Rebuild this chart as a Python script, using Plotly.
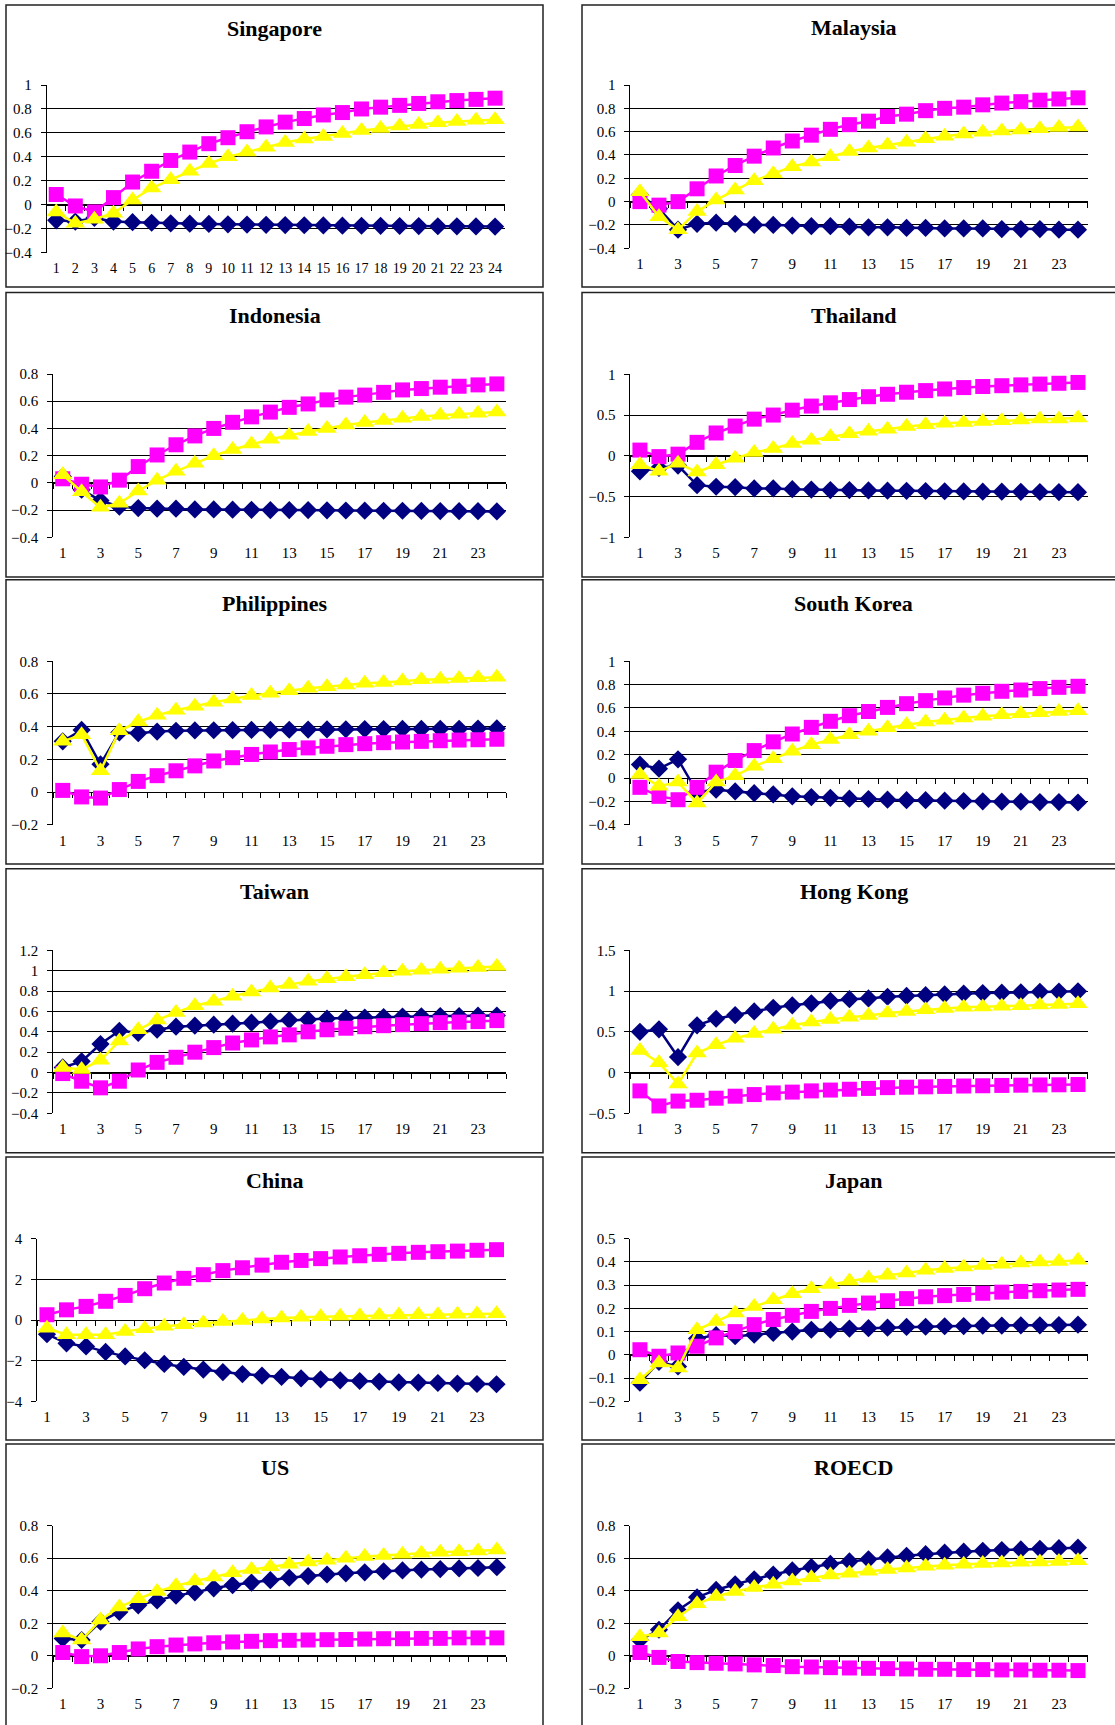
import plotly.graph_objects as go

# ---------------- data ----------------
periods = list(range(1, 25))

singapore_navy = [-0.13, -0.14, -0.11, -0.14, -0.145, -0.15, -0.155, -0.158, -0.16, -0.163, -0.165, -0.167,
                  -0.169, -0.171, -0.172, -0.174, -0.175, -0.176, -0.177, -0.178, -0.179, -0.18, -0.181, -0.182]
singapore_magenta = [0.086, -0.01, -0.06, 0.06, 0.19, 0.28, 0.37, 0.44, 0.51, 0.56, 0.61, 0.65,
                     0.69, 0.72, 0.75, 0.77, 0.80, 0.815, 0.83, 0.846, 0.86, 0.87, 0.88, 0.89]
singapore_yellow = [-0.06, -0.155, -0.12, -0.07, 0.04, 0.14, 0.21, 0.28, 0.345, 0.40, 0.44, 0.48,
                    0.52, 0.55, 0.57, 0.595, 0.62, 0.637, 0.657, 0.67, 0.685, 0.695, 0.705, 0.71]

malaysia_navy = [0.06, -0.06, -0.24, -0.19, -0.18, -0.19, -0.2, -0.2, -0.205, -0.21, -0.21, -0.215,
                 -0.22, -0.22, -0.225, -0.225, -0.23, -0.23, -0.23, -0.235, -0.235, -0.235, -0.24, -0.24]
malaysia_magenta = [0.0, -0.03, 0.0, 0.11, 0.22, 0.31, 0.39, 0.46, 0.52, 0.57, 0.62, 0.66,
                    0.69, 0.73, 0.75, 0.78, 0.80, 0.81, 0.83, 0.845, 0.857, 0.87, 0.88, 0.89]
malaysia_yellow = [0.085, -0.13, -0.24, -0.085, 0.015, 0.10, 0.18, 0.24, 0.30, 0.34, 0.385, 0.43,
                   0.46, 0.485, 0.51, 0.54, 0.56, 0.58, 0.595, 0.605, 0.615, 0.625, 0.635, 0.64]

indonesia_navy = [0.047, -0.05, -0.13, -0.175, -0.185, -0.19, -0.19, -0.195, -0.195, -0.197, -0.198, -0.2,
                  -0.2, -0.2, -0.202, -0.203, -0.204, -0.205, -0.205, -0.206, -0.207, -0.208, -0.208, -0.21]
indonesia_magenta = [0.03, -0.01, -0.03, 0.02, 0.12, 0.205, 0.28, 0.345, 0.40, 0.445, 0.485, 0.52,
                     0.555, 0.58, 0.61, 0.63, 0.645, 0.665, 0.683, 0.693, 0.703, 0.71, 0.72, 0.727]
indonesia_yellow = [0.06, -0.065, -0.18, -0.15, -0.06, 0.02, 0.085, 0.145, 0.20, 0.245, 0.285, 0.32,
                    0.35, 0.377, 0.40, 0.426, 0.443, 0.458, 0.475, 0.487, 0.497, 0.505, 0.512, 0.52]

thailand_navy = [-0.19, -0.15, -0.12, -0.36, -0.38, -0.385, -0.4, -0.4, -0.41, -0.415, -0.42, -0.42,
                 -0.425, -0.428, -0.43, -0.432, -0.435, -0.437, -0.44, -0.44, -0.442, -0.444, -0.445, -0.446]
thailand_magenta = [0.07, -0.01, 0.02, 0.165, 0.28, 0.365, 0.45, 0.5, 0.56, 0.61, 0.65, 0.69,
                    0.725, 0.755, 0.78, 0.8, 0.82, 0.837, 0.85, 0.86, 0.87, 0.88, 0.89, 0.9]
thailand_yellow = [-0.11, -0.19, -0.09, -0.2, -0.11, -0.03, 0.04, 0.09, 0.15, 0.19, 0.235, 0.27,
                   0.3, 0.325, 0.36, 0.38, 0.4, 0.41, 0.42, 0.43, 0.44, 0.45, 0.452, 0.465]

philippines_navy = [0.31, 0.38, 0.17, 0.365, 0.36, 0.37, 0.375, 0.377, 0.378, 0.379, 0.38, 0.38,
                    0.381, 0.382, 0.383, 0.384, 0.385, 0.385, 0.386, 0.386, 0.387, 0.387, 0.388, 0.389]
philippines_magenta = [0.01, -0.03, -0.037, 0.015, 0.065, 0.1, 0.13, 0.16, 0.19, 0.21, 0.23, 0.245,
                       0.26, 0.27, 0.28, 0.29, 0.296, 0.302, 0.306, 0.31, 0.314, 0.318, 0.32, 0.323]
philippines_yellow = [0.31, 0.35, 0.13, 0.375, 0.43, 0.47, 0.5, 0.525, 0.55, 0.57, 0.59, 0.605,
                      0.62, 0.635, 0.645, 0.655, 0.665, 0.67, 0.68, 0.687, 0.69, 0.695, 0.7, 0.703]

korea_navy = [0.115, 0.08, 0.16, -0.12, -0.1, -0.115, -0.13, -0.14, -0.157, -0.163, -0.17, -0.177,
              -0.18, -0.186, -0.19, -0.19, -0.194, -0.197, -0.2, -0.203, -0.203, -0.206, -0.206, -0.21]
korea_magenta = [-0.08, -0.157, -0.186, -0.08, 0.05, 0.15, 0.235, 0.31, 0.377, 0.434, 0.486, 0.534,
                 0.57, 0.605, 0.637, 0.663, 0.686, 0.71, 0.726, 0.743, 0.754, 0.766, 0.777, 0.786]
korea_yellow = [0.03, -0.07, -0.035, -0.215, -0.035, 0.02, 0.1, 0.166, 0.23, 0.286, 0.33, 0.37,
                0.4, 0.43, 0.457, 0.48, 0.494, 0.514, 0.53, 0.543, 0.551, 0.56, 0.57, 0.577]

taiwan_navy = [0.05, 0.11, 0.28, 0.41, 0.39, 0.42, 0.45, 0.46, 0.47, 0.48, 0.49, 0.5,
               0.515, 0.52, 0.53, 0.535, 0.54, 0.545, 0.55, 0.552, 0.555, 0.555, 0.558, 0.56]
taiwan_magenta = [-0.01, -0.085, -0.15, -0.085, 0.025, 0.1, 0.15, 0.2, 0.245, 0.29, 0.32, 0.35,
                  0.37, 0.4, 0.42, 0.435, 0.45, 0.46, 0.47, 0.48, 0.49, 0.495, 0.5, 0.51]
taiwan_yellow = [0.05, 0.03, 0.12, 0.31, 0.42, 0.515, 0.59, 0.655, 0.7, 0.75, 0.79, 0.83,
                 0.865, 0.895, 0.92, 0.94, 0.96, 0.98, 0.995, 1.005, 1.015, 1.025, 1.03, 1.04]

hongkong_navy = [0.5, 0.53, 0.19, 0.58, 0.66, 0.705, 0.75, 0.795, 0.825, 0.85, 0.88, 0.9,
                 0.91, 0.93, 0.94, 0.95, 0.96, 0.97, 0.975, 0.98, 0.985, 0.99, 0.993, 0.997]
hongkong_magenta = [-0.225, -0.41, -0.35, -0.34, -0.315, -0.29, -0.27, -0.25, -0.24, -0.225, -0.215, -0.205,
                    -0.195, -0.185, -0.18, -0.175, -0.17, -0.165, -0.162, -0.158, -0.155, -0.152, -0.15, -0.147]
hongkong_yellow = [0.27, 0.12, -0.14, 0.24, 0.34, 0.42, 0.48, 0.53, 0.58, 0.62, 0.65, 0.68,
                   0.7, 0.73, 0.75, 0.77, 0.785, 0.8, 0.805, 0.815, 0.82, 0.83, 0.835, 0.845]

china_navy = [-0.7, -1.15, -1.3, -1.57, -1.79, -1.98, -2.16, -2.31, -2.44, -2.56, -2.66, -2.74,
              -2.8, -2.87, -2.92, -2.97, -3.0, -3.03, -3.07, -3.08, -3.1, -3.13, -3.15, -3.16]
china_magenta = [0.26, 0.5, 0.67, 0.92, 1.21, 1.54, 1.82, 2.05, 2.23, 2.43, 2.57, 2.7,
                 2.84, 2.93, 3.02, 3.1, 3.16, 3.23, 3.28, 3.33, 3.36, 3.39, 3.43, 3.46]
china_yellow = [-0.4, -0.72, -0.72, -0.72, -0.56, -0.43, -0.31, -0.23, -0.15, -0.07, -0.02, 0.05,
                0.1, 0.13, 0.16, 0.18, 0.21, 0.23, 0.25, 0.26, 0.26, 0.28, 0.3, 0.31]

japan_navy = [-0.12, -0.03, -0.05, 0.07, 0.085, 0.08, 0.087, 0.094, 0.1, 0.108, 0.108, 0.113,
              0.115, 0.117, 0.12, 0.121, 0.123, 0.124, 0.126, 0.126, 0.127, 0.127, 0.128, 0.13]
japan_magenta = [0.022, -0.006, 0.008, 0.037, 0.073, 0.1, 0.13, 0.152, 0.17, 0.187, 0.2, 0.213,
                 0.223, 0.233, 0.242, 0.25, 0.255, 0.26, 0.265, 0.27, 0.273, 0.276, 0.279, 0.282]
japan_yellow = [-0.107, -0.035, -0.057, 0.108, 0.144, 0.18, 0.208, 0.237, 0.263, 0.285, 0.303, 0.318,
                0.33, 0.343, 0.352, 0.364, 0.372, 0.378, 0.385, 0.39, 0.395, 0.4, 0.402, 0.407]

us_navy = [0.107, 0.097, 0.21, 0.27, 0.31, 0.34, 0.37, 0.39, 0.415, 0.435, 0.45, 0.465,
           0.48, 0.49, 0.5, 0.507, 0.513, 0.52, 0.525, 0.53, 0.533, 0.537, 0.54, 0.545]
us_magenta = [0.02, -0.005, 0.0, 0.02, 0.042, 0.056, 0.066, 0.073, 0.08, 0.085, 0.089, 0.093,
              0.095, 0.097, 0.099, 0.1, 0.103, 0.105, 0.105, 0.107, 0.107, 0.11, 0.11, 0.11]
us_yellow = [0.14, 0.097, 0.22, 0.3, 0.35, 0.395, 0.43, 0.46, 0.485, 0.51, 0.53, 0.547,
             0.563, 0.576, 0.588, 0.6, 0.61, 0.617, 0.625, 0.63, 0.636, 0.64, 0.644, 0.65]

roecd_navy = [0.097, 0.16, 0.28, 0.36, 0.405, 0.44, 0.47, 0.5, 0.525, 0.545, 0.565, 0.58,
              0.593, 0.605, 0.615, 0.625, 0.634, 0.64, 0.646, 0.65, 0.654, 0.658, 0.662, 0.665]
roecd_magenta = [0.02, -0.01, -0.035, -0.042, -0.046, -0.05, -0.056, -0.06, -0.067, -0.069, -0.073, -0.075,
                 -0.077, -0.079, -0.081, -0.083, -0.083, -0.085, -0.085, -0.087, -0.087, -0.089, -0.089, -0.091]
roecd_yellow = [0.117, 0.14, 0.24, 0.32, 0.365, 0.395, 0.42, 0.44, 0.46, 0.48, 0.497, 0.507,
                0.52, 0.53, 0.54, 0.55, 0.557, 0.563, 0.567, 0.571, 0.575, 0.577, 0.58, 0.585]

titles = ["Singapore", "Malaysia", "Indonesia", "Thailand", "Philippines", "South Korea",
          "Taiwan", "Hong Kong", "China", "Japan", "US", "ROECD"]
navy_series = [singapore_navy, malaysia_navy, indonesia_navy, thailand_navy, philippines_navy, korea_navy,
               taiwan_navy, hongkong_navy, china_navy, japan_navy, us_navy, roecd_navy]
magenta_series = [singapore_magenta, malaysia_magenta, indonesia_magenta, thailand_magenta, philippines_magenta,
                  korea_magenta, taiwan_magenta, hongkong_magenta, china_magenta, japan_magenta, us_magenta,
                  roecd_magenta]
yellow_series = [singapore_yellow, malaysia_yellow, indonesia_yellow, thailand_yellow, philippines_yellow,
                 korea_yellow, taiwan_yellow, hongkong_yellow, china_yellow, japan_yellow, us_yellow, roecd_yellow]
# y-axis (min, max, step)
y_scales = [(-0.4, 1, 0.2), (-0.4, 1, 0.2), (-0.4, 0.8, 0.2), (-1, 1, 0.5), (-0.2, 0.8, 0.2), (-0.4, 1, 0.2),
            (-0.4, 1.2, 0.2), (-0.5, 1.5, 0.5), (-4, 4, 2), (-0.2, 0.5, 0.1), (-0.2, 0.8, 0.2), (-0.2, 0.8, 0.2)]
x_label_steps = [1, 2, 2, 2, 2, 2, 2, 2, 2, 2, 2, 2]

# ---------------- layout geometry (pixels) ----------------
W, H = 1115, 1725
box_x = [(6, 543), (582, 1125)]
box_y = [(5, 287), (292.5, 577), (579.7, 864), (868.7, 1152.7), (1157, 1440), (1444, 1732)]
plot_x = [(46.7, 504.6), (630.4, 1087.5), (53.3, 506.3), (630.4, 1087.5), (53.3, 506.3), (630.4, 1087.5),
          (53.3, 506.3), (630.4, 1087.5), (37.2, 506.3), (630.4, 1087.5), (53.3, 506.3), (630.4, 1087.5)]
plot_y = [(85, 252.7), (85, 248.3), (374, 537.3), (374.3, 537.3), (661.3, 824.7), (661.3, 824.7),
          (950.3, 1113.3), (950.3, 1113.3), (1238.7, 1401.3), (1238.7, 1401.3), (1525.7, 1688.3),
          (1525.7, 1688.3)]
title_y = [28, 27, 316, 316, 604, 604, 892, 892, 1180, 1180, 1467, 1467]

NAVY, MAGENTA, YELLOW = "#000080", "#FF00FF", "#FFFF00"
TICK_FONT = dict(family="Liberation Serif", size=15, color="#000")


def fx(v):
    return v / W


def fy(v):
    return 1 - v / H


fig = go.Figure()
layout = dict(width=W, height=H, margin=dict(l=0, r=0, t=0, b=0, pad=0, autoexpand=False),
              template="none", font=dict(family="Liberation Serif", color="#000"),
              paper_bgcolor="white", plot_bgcolor="rgba(0,0,0,0)", showlegend=False)
shapes, annotations = [], []

for i in range(12):
    n = i + 1
    col, row = i % 2, i // 2
    xid = "x" if n == 1 else f"x{n}"
    yid = "y" if n == 1 else f"y{n}"
    zid = f"x{n + 12}"
    ymin, ymax, ystep = y_scales[i]
    xd = [fx(plot_x[i][0]), fx(plot_x[i][1])]
    yd = [fy(plot_y[i][1]), fy(plot_y[i][0])]

    for vals, color, sym, size in ((navy_series[i], NAVY, "diamond", 14),
                                   (magenta_series[i], MAGENTA, "square", 15),
                                   (yellow_series[i], YELLOW, "triangle-up", 17)):
        fig.add_trace(go.Scatter(x=periods, y=vals, mode="lines+markers", xaxis=xid, yaxis=yid,
                                 line=dict(color=color, width=2.5),
                                 marker=dict(symbol=sym, size=size, color=color, line=dict(width=0)),
                                 hoverinfo="skip", cliponaxis=False))
    # helper trace so the zero-line category axis is drawn
    fig.add_trace(go.Scatter(x=[None], y=[None], xaxis=zid, yaxis=yid, hoverinfo="skip"))

    step = x_label_steps[i]
    layout["xaxis" if n == 1 else f"xaxis{n}"] = dict(
        domain=xd, anchor=yid, range=[0.5, 24.5], tickmode="array",
        tickvals=periods[::step], ticktext=[str(p) for p in periods[::step]],
        showgrid=False, zeroline=False, showline=False, ticks="", automargin=False,
        tickfont=dict(TICK_FONT, size=14 if step == 1 else 15), ticklabelstandoff=5, fixedrange=True)
    zero_pos = yd[0] + (0 - ymin) / (ymax - ymin) * (yd[1] - yd[0])
    layout[f"xaxis{n + 12}"] = dict(
        domain=xd, overlaying=xid, anchor="free", position=zero_pos, range=[0.5, 24.5],
        tickmode="array", tickvals=[p - 0.5 for p in periods] + [24.5], showticklabels=False,
        ticks="outside", ticklen=5, tickcolor="#000", showline=True, linecolor="#000", linewidth=1,
        showgrid=False, zeroline=False, layer="below traces", automargin=False, fixedrange=True)
    layout["yaxis" if n == 1 else f"yaxis{n}"] = dict(
        domain=yd, anchor=xid, range=[ymin, ymax], tick0=0, dtick=ystep,
        showgrid=True, gridcolor="#000", gridwidth=1, zeroline=False,
        showline=True, linecolor="#000", linewidth=1, ticks="outside", ticklen=5, tickcolor="#000",
        tickfont=TICK_FONT, ticklabelstandoff=6, layer="below traces", automargin=False, fixedrange=True)

    bx0, bx1 = box_x[col]
    by0, by1 = box_y[row]
    shapes.append(dict(type="rect", xref="paper", yref="paper", x0=fx(bx0), x1=fx(bx1),
                       y0=fy(by1), y1=fy(by0), line=dict(color="#222", width=1.5), layer="below"))
    annotations.append(dict(text=f"<b>{titles[i]}</b>", xref="paper", yref="paper",
                            x=fx((bx0 + bx1) / 2), y=fy(title_y[i]),
                            xanchor="center", yanchor="middle", showarrow=False,
                            font=dict(family="Liberation Serif", size=22, color="#000")))

layout["shapes"] = shapes
layout["annotations"] = annotations
fig.update_layout(**layout)
fig.write_html("out.html", config={"displayModeBar": False},
               post_script="document.body.style.margin='0';")
